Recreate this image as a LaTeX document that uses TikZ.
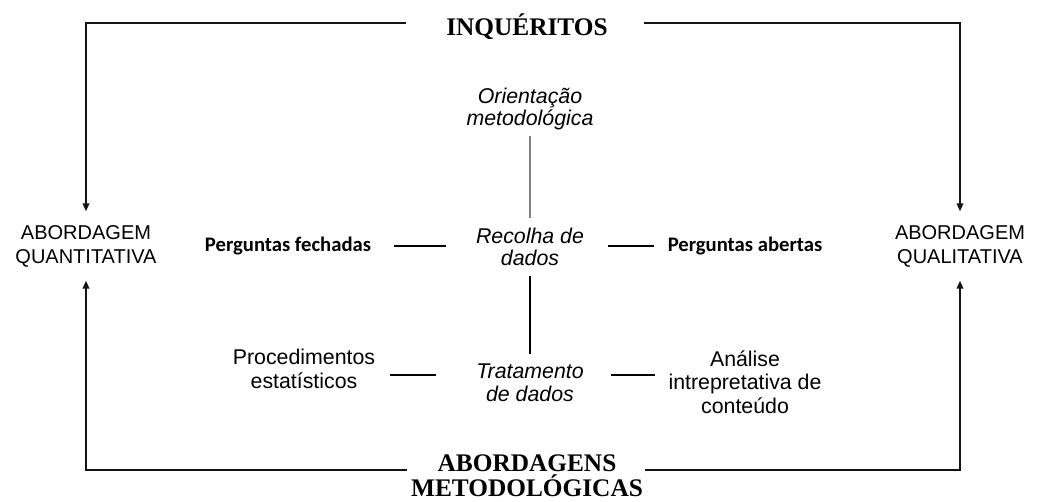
\documentclass[tikz,border=0pt]{standalone}
\usepackage{fontspec}
\setmainfont{Liberation Sans}
\newfontfamily\calib{Carlito}
\newfontfamily\timesf{Liberation Serif}
\usetikzlibrary{arrows.meta}

\tikzset{every picture/.style={line width=0.75pt}}
\tikzset{
  frame/.style={line width=1.3pt, color={rgb, 255:red, 20; green, 20; blue, 20 }},
  tip/.style={-{Triangle[length=6pt,width=5pt]}},
  link/.style={line width=0.9pt},
  head/.style={font=\timesf\bfseries\fontsize{19}{18.5}\selectfont, align=center, inner sep=0pt},
  approach/.style={font=\fontsize{15}{18}\selectfont, align=center, inner sep=0pt},
  stage/.style={font=\itshape\fontsize{16}{17}\selectfont, align=center, inner sep=0pt},
  item/.style={font=\fontsize{16}{17.5}\selectfont, align=center, inner sep=0pt},
  qitem/.style={font=\calib\bfseries\fontsize{15.5}{18}\selectfont, inner sep=0pt}
}

\begin{document}
\begin{tikzpicture}[x=0.75pt,y=0.75pt,yscale=-1,xscale=1]
\useasboundingbox (0,0) rectangle (1039,501);

% Text Node
\node [head, anchor=base] (inq) at (527,35) {INQUÉRITOS};
% Text Node
\node [head] (metod) at (527,476) {ABORDAGENS\\METODOLÓGICAS};
% Text Node
\node [approach] (quant) at (86,246) {ABORDAGEM\\QUANTITATIVA};
% Text Node
\node [approach] (qual) at (960,246) {ABORDAGEM\\QUALITATIVA};
% Text Node
\node [stage] (orient) at (530,109) {Orientação\\metodológica};
% Text Node
\node [stage] (recolha) at (530,247) {Recolha de\\dados};
% Text Node
\node [stage] (trat) at (530,383) {Tratamento\\de dados};
% Text Node
\node [qitem] (fech) at (288,246) {Perguntas fechadas};
% Text Node
\node [qitem] (abert) at (745,246) {Perguntas abertas};
% Text Node
\node [item] (proc) at (304,369) {Procedimentos\\estatísticos};
% Text Node
\node [item] (anal) at (745,382) {Análise\\intrepretativa de\\conteúdo};

%Frame Lines
\draw [frame, tip, shorten <=30pt, shorten >=10pt] ([yshift=-9pt]inq.base west) -| (quant.north);
\draw [frame, tip, shorten <=27pt, shorten >=10pt] ([yshift=-9pt]inq.base east) -| (qual.north);
\draw [frame, tip, shorten <=3pt, shorten >=10pt] ([yshift=-4.5pt]metod.west) -| (quant.south);
\draw [frame, tip, shorten <=1pt, shorten >=10pt] ([yshift=-4.5pt]metod.east) -| (qual.south);

%Straight Lines
\draw [link, gray, shorten <=4pt, shorten >=7pt] (orient.south) -- (recolha.north);
\draw [link, shorten <=7pt, shorten >=7pt] (recolha.south) -- (trat.north);
\draw [link, shorten <=17pt, shorten >=22pt] (fech.east) -- (fech.east -| recolha.west);
\draw [link, shorten <=18pt, shorten >=10pt] (recolha.east |- abert.west) -- (abert.west);
\draw [link, shorten <=11pt, shorten >=30pt] ([yshift=4.5pt]proc.east) -- ([yshift=4.5pt]proc.east -| trat.west);
\draw [link, shorten <=20pt, shorten >=10pt] ([yshift=-6pt]trat.east) -- ([yshift=-6pt]trat.east -| anal.west);

\end{tikzpicture}
\end{document}
